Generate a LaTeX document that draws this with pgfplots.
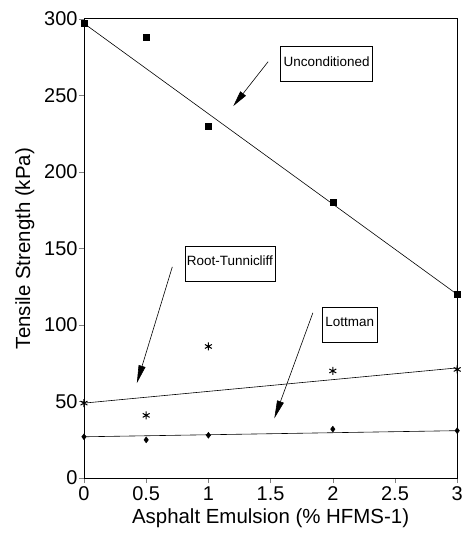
\documentclass[border=0pt]{standalone}
\usepackage{fontspec}
\setmainfont{Liberation Sans}
\usepackage{pgfplots}
\pgfplotsset{compat=1.18}
\usetikzlibrary{arrows.meta}

\begin{document}
\begin{tikzpicture}[boxlabel/.style={draw, fill=white, font=\fontsize{13.5}{15}\selectfont, inner xsep=2pt, minimum height=35bp, text depth=5bp, anchor=north west}]
\begin{axis}[
  scale only axis, width=373bp, height=459bp,
  xmin=0, xmax=3, ymin=0, ymax=300,
  xtick={0,0.5,1,1.5,2,2.5,3}, ytick={0,50,100,150,200,250,300},
  tick align=outside, xtick pos=bottom, ytick pos=left,
  major tick length=5bp,
  /pgf/number format/assume math mode=true,
  tick label style={font=\fontsize{20}{22}\selectfont},
  yticklabel style={xshift=2bp},
  xlabel={Asphalt Emulsion (\% HFMS-1)},
  ylabel={Tensile Strength (kPa)},
  label style={font=\fontsize{20.5}{22}\selectfont},
  xlabel style={yshift=-1bp}, ylabel style={yshift=3bp},
  clip=false, axis line style={line width=0.9pt},
]
% Unconditioned
\addplot[only marks, mark=square*, mark size=3pt] coordinates {(0,297) (0.5,288) (1,230) (2,180) (3,120)};
\addplot[no marks, line width=0.6pt] coordinates {(0,297) (3,120)};
% Root-Tunnicliff
\addplot[only marks, mark=asterisk, mark size=4pt, line width=1pt] coordinates {(0,49) (0.5,41) (1,86) (2,70) (3,71)};
\addplot[no marks, line width=0.6pt] coordinates {(0,49) (3,72)};
% Lottman
\addplot[only marks, mark=diamond*, mark size=3pt] coordinates {(0,27) (0.5,25) (1,28) (2,32) (3,31)};
\addplot[no marks, line width=0.6pt] coordinates {(0,27) (3,31)};

% box corners: Unconditioned (281,48), Root-Tunnicliff (185,246), Lottman (323,307) in px
\node[boxlabel, minimum width=92bp] at (axis cs:1.579,282.3) {Unconditioned};
\draw[line width=0.6pt, -{Triangle[length=16pt,width=7pt]}] (axis cs:1.48,272) -- (axis cs:1.20,243);
\node[boxlabel, minimum width=88bp] at (axis cs:0.810,151.9) {Root-Tunnicliff};
\draw[line width=0.6pt, -{Triangle[length=18pt,width=7pt]}] (axis cs:0.71,138) -- (axis cs:0.425,62);
\node[boxlabel, minimum width=54bp] at (axis cs:1.917,111.9) {Lottman};
\draw[line width=0.6pt, -{Triangle[length=18pt,width=7pt]}] (axis cs:1.84,108) -- (axis cs:1.53,39);

\coordinate (bl) at (rel axis cs:-0.225,-0.126);
\coordinate (tr) at (rel axis cs:1.019,1.041);
\end{axis}
\path (bl) (tr);
\end{tikzpicture}
\end{document}
